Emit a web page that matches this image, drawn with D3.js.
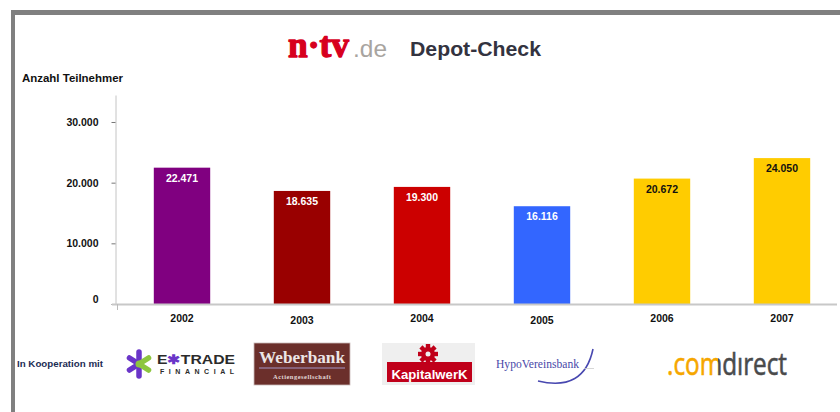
<!DOCTYPE html>
<html><head><meta charset="utf-8">
<script src="https://cdn.jsdelivr.net/npm/d3@7/dist/d3.min.js"></script>
<style>
html,body{margin:0;padding:0;background:#fff;}
svg{display:block;}
text{font-family:"Liberation Sans",Arial,sans-serif;}
</style></head>
<body>
<svg id="c" width="840" height="412"></svg>
<script>
const years = ["2002","2003","2004","2005","2006","2007"];
const participants = [22471, 18635, 19300, 16116, 20672, 24050];
const barColors = ["#800080","#990000","#cc0000","#3366ff","#ffcc00","#ffcc00"];
const labelColors = ["#ffffff","#ffffff","#ffffff","#ffffff","#111111","#111111"];
const yTicks = [0, 10000, 20000, 30000];

const de = d3.formatLocale({decimal:",", thousands:".", grouping:[3], currency:["","€"]});
const fmt = de.format(",d");

const svg = d3.select("#c");
svg.append("rect").attr("width",840).attr("height",412).attr("fill","#fff");

// fit a text's natural width to a target by adjusting its font size
function fitWidth(sel, target){
  const node = sel.node();
  const fs = parseFloat(sel.style("font-size"));
  const w = node.getComputedTextLength();
  if (w > 0) sel.style("font-size", (fs*target/w).toFixed(2)+"px");
  return sel;
}

// frame
svg.append("rect").attr("x",11).attr("y",10).attr("width",829).attr("height",5).attr("fill","#808080");
svg.append("rect").attr("x",11).attr("y",10).attr("width",4).attr("height",402).attr("fill","#808080");

// title: logo + text
fitWidth(svg.append("text").attr("x",288).attr("y",57).text("n·tv").attr("fill","#d7001e")
  .attr("stroke","#d7001e").attr("stroke-width",1.3).attr("stroke-linejoin","round")
  .style("font-family","'Liberation Serif','DejaVu Serif',serif").style("font-weight","bold").style("font-size","38px"), 61);
fitWidth(svg.append("text").attr("x",353).attr("y",57).text(".de").attr("fill","#a8a4a0")
  .style("font-size","26px"), 34);
svg.append("text").attr("x",410).attr("y",55.5).text("Depot-Check").attr("fill","#333340")
  .style("font-size","20.5px").style("font-weight","bold").attr("textLength",131).attr("lengthAdjust","spacingAndGlyphs");

svg.append("text").attr("x",22).attr("y",82).text("Anzahl Teilnehmer").attr("fill","#111")
  .style("font-size","10px").style("font-weight","bold").attr("textLength",101).attr("lengthAdjust","spacingAndGlyphs");

// scales
const y = d3.scaleLinear().domain([0, 34450]).range([304, 95]);
const x = d3.scaleBand().domain(years).range([122, 842]).paddingInner(0.53).paddingOuter(0.265);

// y axis
const yAxis = svg.append("g").attr("transform","translate(115.5,0)")
  .call(d3.axisLeft(y).tickValues(yTicks).tickFormat(fmt).tickSizeInner(4).tickSizeOuter(0).tickPadding(13));
yAxis.select(".domain").attr("stroke","#c4c4c4").attr("stroke-width",1);
yAxis.selectAll(".tick line").attr("stroke","#777");
yAxis.selectAll(".tick text").attr("fill","#111").style("font-size","10.5px").style("font-weight","bold")
  .style("font-family","'Liberation Sans',Arial,sans-serif")
  .attr("y", d => d === 0 ? -5 : 0);

// bars
svg.append("g").selectAll("rect").data(years).join("rect")
  .attr("x", d => x(d)).attr("width", x.bandwidth())
  .attr("y", (d,i) => y(participants[i])).attr("height", (d,i) => y(0) - y(participants[i]))
  .attr("fill", (d,i) => barColors[i]);

// baseline
svg.append("line").attr("x1",112).attr("x2",837).attr("y1",304.5).attr("y2",304.5)
  .attr("stroke","#c8c8c8").attr("stroke-width",2);
svg.append("line").attr("x1",117.5).attr("x2",117.5).attr("y1",304).attr("y2",310)
  .attr("stroke","#bbb").attr("stroke-width",1);

// value labels
svg.append("g").selectAll("text").data(years).join("text")
  .attr("x", d => x(d) + x.bandwidth()/2)
  .attr("y", (d,i) => y(participants[i]) + 14)
  .attr("text-anchor","middle").attr("fill",(d,i)=>labelColors[i])
  .style("font-size","10.5px").style("font-weight","bold")
  .text((d,i) => fmt(participants[i]));

// x axis labels
const xAxis = svg.append("g").attr("transform","translate(0,314)")
  .call(d3.axisBottom(x).tickSize(0).tickPadding(0));
xAxis.select(".domain").remove();
xAxis.selectAll(".tick text").attr("fill","#111").attr("dy","0.71em")
  .attr("y",(d,i)=> (i===1||i===3)?3:1)
  .style("font-size","10.5px").style("font-weight","bold")
  .style("font-family","'Liberation Sans',Arial,sans-serif");

// cooperation row
svg.append("text").attr("x",17).attr("y",367).text("In Kooperation mit").attr("fill","#1c2c54")
  .style("font-size","9.5px").style("font-weight","bold").attr("textLength",86).attr("lengthAdjust","spacingAndGlyphs");

// E*TRADE logo
const et = svg.append("g");
const cx = 139, cy = 364;
[[-90,"#6a35c8"],[150,"#6a35c8"],[-150,"#6a35c8"],[90,"#6a35c8"],[30,"#8dc63f"],[-30,"#8dc63f"]].forEach(([a,c])=>{
  const r = a*Math.PI/180;
  et.append("line").attr("x1",cx).attr("y1",cy).attr("x2",cx+11*Math.cos(r)).attr("y2",cy+12*Math.sin(r))
    .attr("stroke",c).attr("stroke-width",5.5).attr("stroke-linecap","round");
});
et.append("circle").attr("cx",cx).attr("cy",cy).attr("r",3.5).attr("fill","#8dc63f");
const etText = et.append("text").attr("x",157).attr("y",364).style("font-size","13px").style("font-weight","bold")
  .attr("fill","#2b2b2b").attr("textLength",78).attr("lengthAdjust","spacingAndGlyphs");
etText.append("tspan").text("E");
etText.append("tspan").text("✱").attr("fill","#6a35c8");
etText.append("tspan").text("TRADE");
et.append("text").attr("x",160).attr("y",374).text("FINANCIAL").attr("fill","#2b2b2b")
  .style("font-size","7px").style("font-weight","bold").attr("textLength",74).attr("lengthAdjust","spacing");

// Weberbank logo
const wb = svg.append("g");
wb.append("rect").attr("x",254).attr("y",343).attr("width",96).attr("height",42).attr("fill","#6b2f2b")
  .attr("stroke","#c8b8b8").attr("stroke-width",0.8);
wb.append("text").attr("x",302).attr("y",363).attr("text-anchor","middle").text("Weberbank").attr("fill","#ece6e6")
  .style("font-family","'Liberation Serif','DejaVu Serif',serif").style("font-weight","bold").style("font-size","16px")
  .attr("textLength",86).attr("lengthAdjust","spacingAndGlyphs");
wb.append("line").attr("x1",259).attr("x2",345).attr("y1",368).attr("y2",368).attr("stroke","#a596c8").attr("stroke-width",1.2);
wb.append("text").attr("x",302).attr("y",379).attr("text-anchor","middle").text("Actiengesellschaft").attr("fill","#e0d6d6")
  .style("font-family","'Liberation Serif','DejaVu Serif',serif").style("font-weight","bold").style("font-size","6.5px")
  .attr("textLength",58).attr("lengthAdjust","spacing");

// KapitalwerK logo
const kw = svg.append("g");
kw.append("rect").attr("x",382).attr("y",343).attr("width",93).attr("height",42).attr("fill","#efefef");
kw.append("rect").attr("x",387).attr("y",362).attr("width",85).attr("height",20).attr("fill","#c0001a");
const gx = 428, gy = 354;
for (let k=0;k<8;k++){
  kw.append("rect").attr("x",gx-2.2).attr("y",gy-10).attr("width",4.4).attr("height",5)
    .attr("fill","#c0001a").attr("transform",`rotate(${k*45},${gx},${gy})`);
}
kw.append("circle").attr("cx",gx).attr("cy",gy).attr("r",7).attr("fill","#c0001a");
kw.append("circle").attr("cx",gx).attr("cy",gy).attr("r",2.5).attr("fill","#efefef");
kw.append("text").attr("x",429.5).attr("y",378.5).attr("text-anchor","middle").text("KapitalwerK").attr("fill","#fff")
  .style("font-weight","bold").style("font-size","13px").attr("textLength",76).attr("lengthAdjust","spacingAndGlyphs");

// HypoVereinsbank logo
const hv = svg.append("g");
hv.append("text").attr("x",496).attr("y",368).text("HypoVereinsbank").attr("fill","#4848a8")
  .style("font-family","'Liberation Serif','DejaVu Serif',serif").style("font-size","13px")
  .attr("textLength",83).attr("lengthAdjust","spacingAndGlyphs");
hv.append("path").attr("d","M538,381 Q584,392 593,349").attr("fill","none").attr("stroke","#4848b0").attr("stroke-width",1.6);
hv.append("line").attr("x1",584).attr("x2",594).attr("y1",368.5).attr("y2",368.5).attr("stroke","#ccc").attr("stroke-width",0.8);

// comdirect logo: one text, two-colour fill via hard-stop gradient
const grad = svg.append("defs").append("linearGradient").attr("id","cdg")
  .attr("gradientUnits","userSpaceOnUse").attr("x1",667).attr("x2",787).attr("y1",0).attr("y2",0);
const split = (718-667)/(787-667);
grad.append("stop").attr("offset",0).attr("stop-color","#f5a500");
grad.append("stop").attr("offset",split).attr("stop-color","#f5a500");
grad.append("stop").attr("offset",split).attr("stop-color","#4a4a4a");
grad.append("stop").attr("offset",1).attr("stop-color","#4a4a4a");
svg.append("text").attr("x",667).attr("y",375).text(".comdırect").attr("fill","url(#cdg)")
  .attr("stroke","url(#cdg)").attr("stroke-width",0.6)
  .style("font-family","'Open Sans','Liberation Sans',sans-serif").style("font-size","31px")
  .attr("textLength",120).attr("lengthAdjust","spacingAndGlyphs");
</script>
</body></html>
